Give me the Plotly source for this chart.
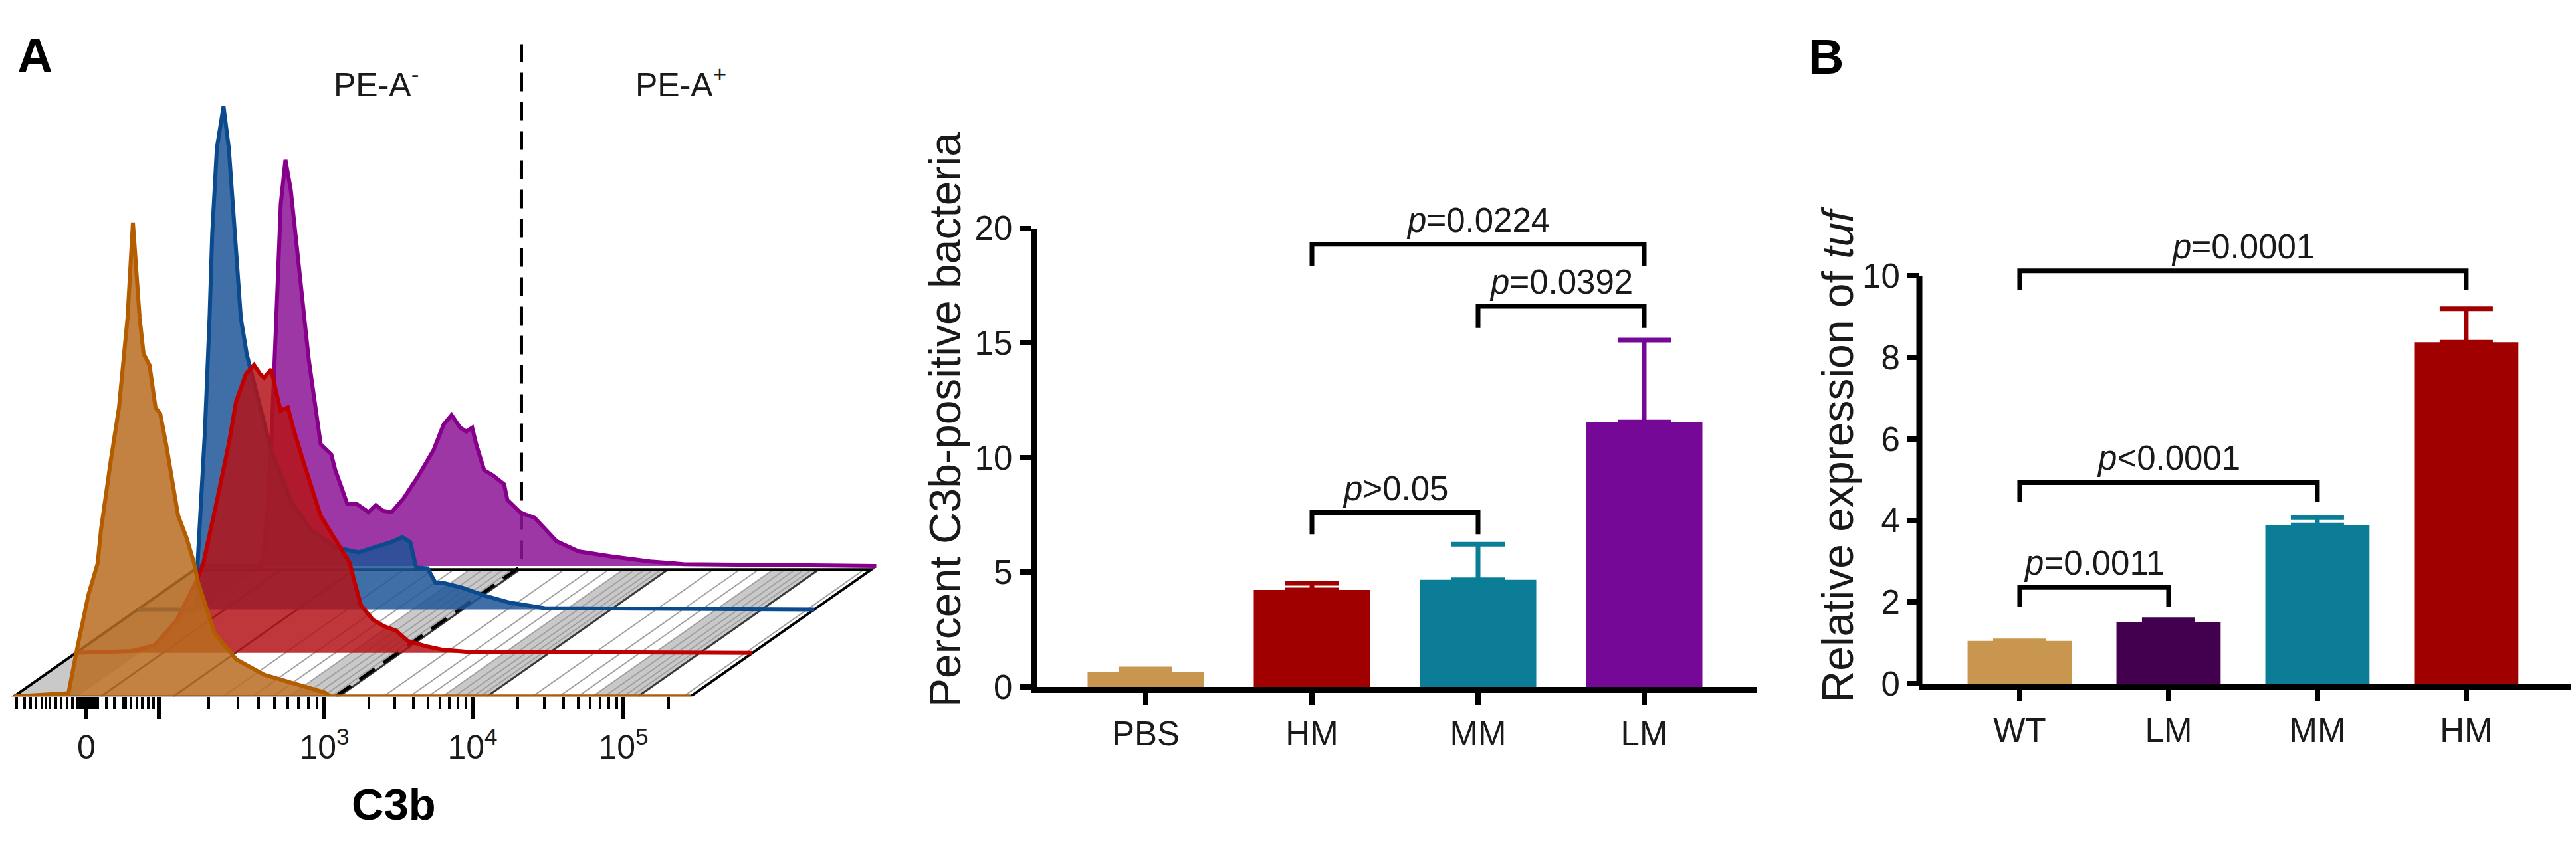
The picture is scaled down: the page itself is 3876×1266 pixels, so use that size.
import numpy as np
import plotly.graph_objects as go

FONT = "Liberation Sans, Arial, sans-serif"
TXT = "#1a1a1a"
W, H = 3876, 1266

# ---------------- A (left): C3b flow histograms ----------------
# display channel (0..1018 on the front axis) and event count
pbs_ch = [0, 82, 95, 112, 126, 131, 146, 158, 171, 179, 189, 195, 204, 213, 220, 229, 247, 260, 271, 277,
          302, 335, 377, 427, 468, 476, 1018]
pbs_cnt = [0, 5, 75, 160, 210, 263, 374, 455, 598, 747, 598, 540, 522, 455, 446, 397, 285, 249, 210, 180,
           99, 58, 34, 18, 6, 0, 0]

hm_ch = [0, 84, 118, 151, 180, 192, 212, 230, 241, 256, 268, 277, 283, 294, 301, 308, 319, 328, 341, 355,
         368, 386, 399, 412, 420, 429, 447, 464, 482, 499, 529, 552, 587, 1018]
hm_cnt = [0, 3, 12, 50, 110, 142, 239, 329, 396, 440, 454, 440, 434, 447, 413, 382, 387, 351, 306, 262,
          217, 186, 163, 142, 109, 75, 52, 42, 35, 19, 10, 5, 2, 0]

mm_ch = [0, 87, 90, 94, 101, 108, 112, 119, 129, 137, 146, 155, 164, 181, 201, 231, 261, 298, 332, 381,
         398, 410, 419, 436, 448, 459, 489, 521, 559, 612, 1018]
mm_cnt = [0, 0, 72, 147, 281, 460, 593, 727, 793, 727, 593, 460, 402, 330, 250, 170, 125, 98, 90, 106,
          114, 106, 66, 65, 42, 42, 34, 22, 11, 2, 0]

lm_ch = [0, 92, 96, 103, 108, 113, 117, 122, 129, 137, 144, 151, 158, 164, 173, 182, 198, 204, 213, 222,
         236, 254, 265, 276, 289, 307, 329, 352, 367, 379, 392, 401, 410, 416, 428, 441, 458, 463, 483, 504,
         537, 570, 620, 678, 728, 1018]
lm_cnt = [0, 0, 20, 100, 200, 317, 437, 571, 640, 593, 526, 460, 393, 326, 259, 192, 176, 151, 125, 98,
          98, 85, 96, 87, 85, 107, 142, 183, 223, 238, 218, 212, 218, 192, 151, 143, 129, 104, 84, 76,
          39, 23, 15, 7, 3, 0]

# axis ticks (display channels)
hist_tick_ch = [109, 218, 467, 690, 917]
hist_tick_text = ["0", "", "10<sup>3</sup>", "10<sup>4</sup>", "10<sup>5</sup>"]
near_zero_ch = [4, 16, 25, 33, 42, 48, 54, 63, 71, 80, 88, 96, 100, 104, 113, 117, 121,
                126, 139, 151, 164, 168, 176, 185, 193, 202, 210]
gate_ch = 484

# ---------------- A (right): C3b-positive bacteria ----------------
cat_a = ["PBS", "HM", "MM", "LM"]
mean_a = [0.66, 4.23, 4.67, 11.55]
err_a = [0.12, 0.29, 1.55, 3.57]
col_a = ["#C8964F", "#A00000", "#0B7D96", "#760898"]
brk_a = [("HM", "MM", 7.6, "<i>p</i>&gt;0.05"),
         ("MM", "LM", 16.6, "<i>p</i>=0.0392"),
         ("HM", "LM", 19.3, "<i>p</i>=0.0224")]

# ---------------- B: tuf expression ----------------
cat_b = ["WT", "LM", "MM", "HM"]
mean_b = [1.05, 1.51, 3.89, 8.37]
err_b = [0.0, 0.06, 0.18, 0.82]
col_b = ["#C8964F", "#42004F", "#0B7D96", "#A00000"]
brk_b = [("WT", "LM", 2.36, "<i>p</i>=0.0011"),
         ("WT", "MM", 4.93, "<i>p</i>&lt;0.0001"),
         ("WT", "HM", 10.12, "<i>p</i>=0.0001")]

fig = go.Figure()

# ---- pseudo-3D histogram overlay ----
step = 68.5      # vertical offset between layers
shear = 1.36     # horizontal shift per unit of depth
depth = 200
ch_max = 1018
grid_off = 22

shapes = []


def floor_band(c0, c1, color):
    return dict(type="path", xref="x", yref="y", layer="below", fillcolor=color, line=dict(width=0),
                path=f"M {c0},0 L {c1},0 L {c1 + shear * depth},{depth} L {c0 + shear * depth},{depth} Z")


shapes.append(floor_band(0, ch_max, "white"))
shapes.append(floor_band(0, near_zero_ch[11], "#c9c9c9"))
decades = hist_tick_ch[1:]
minor_ch = list(near_zero_ch)
for a, b in zip(decades[:-1], decades[1:]):
    shapes.append(floor_band(a + np.log10(5) * (b - a) + grid_off, b + grid_off, "#c9c9c9"))
    for m in range(2, 10):
        minor_ch.append(a + np.log10(m) * (b - a))
minor_ch.append(decades[-1] + np.log10(2) * (decades[-1] - decades[-2]))

for c in minor_ch:
    if c > hist_tick_ch[1]:
        shapes.append(dict(type="line", xref="x", yref="y", layer="below",
                           x0=c + grid_off, y0=0, x1=c + grid_off + shear * depth, y1=depth,
                           line=dict(color="#a0a0a0", width=2)))
for c in hist_tick_ch:
    shapes.append(dict(type="line", xref="x", yref="y", layer="below",
                       x0=c + grid_off, y0=0, x1=c + grid_off + shear * depth, y1=depth,
                       line=dict(color="#3a3a3a", width=3)))
shapes.append(dict(type="path", xref="x", yref="y", layer="below", line=dict(color="black", width=4),
                   path=f"M 0,0 L {ch_max},0 L {ch_max + shear * depth},{depth} "
                        f"L {shear * depth},{depth} Z"))
gb = 3 * step
shapes.append(dict(type="path", xref="x", yref="y", layer="below",
                   line=dict(color="black", width=5, dash="28px,16px"),
                   path=f"M {gate_ch},0 L {gate_ch + shear * gb},{gb} L {gate_ch + shear * gb},1028"))

layers = [
    (lm_ch, lm_cnt, "#86008C", "rgba(140,20,150,0.85)", 3),
    (mm_ch, mm_cnt, "#0B4A8C", "rgba(30,85,150,0.85)", 2),
    (hm_ch, hm_cnt, "#C00000", "rgba(180,20,25,0.85)", 1),
    (pbs_ch, pbs_cnt, "#B35C00", "rgba(184,108,32,0.85)", 0),
]
for ch, cnt, lc, fc, k in layers:
    base = k * step
    fig.add_trace(go.Scatter(
        x=[c + shear * base for c in ch], y=[n + base for n in cnt],
        mode="lines", fill="toself", fillcolor=fc, line=dict(color=lc, width=6),
        xaxis="x", yaxis="y", showlegend=False, hoverinfo="skip"))

# ---- bar panels ----
def add_bars(cats, means, errs, cols, brks, xa, ya, leg):
    for i, (m, e, c) in enumerate(zip(means, errs, cols)):
        fig.add_trace(go.Bar(
            x=[i], y=[m], width=0.7, marker=dict(color=c, line=dict(width=0)),
            error_y=dict(type="data", symmetric=False, array=[e], arrayminus=[0],
                         color=c, thickness=7, width=40),
            xaxis=xa, yaxis=ya, showlegend=False, hoverinfo="skip"))
    for a, b, lev, txt in brks:
        ia, ib = cats.index(a), cats.index(b)
        fig.add_trace(go.Scatter(
            x=[ia, ia, ib, ib], y=[lev - leg, lev, lev, lev - leg], mode="lines",
            line=dict(color="black", width=7), xaxis=xa, yaxis=ya, showlegend=False, hoverinfo="skip"))
        ann.append(dict(x=(ia + ib) / 2, y=lev, xref=xa, yref=ya, text=txt, showarrow=False,
                        yanchor="bottom", yshift=6, font=dict(size=51, color=TXT, family=FONT)))


ann = []
add_bars(cat_a, mean_a, err_a, col_a, brk_a, "x2", "y2", 0.95)
add_bars(cat_b, mean_b, err_b, col_b, brk_b, "x3", "y3", 0.47)

# y axis line of panel B (stops at top tick, brackets go above it)
shapes.append(dict(type="line", xref="x3 domain", yref="y3", x0=0, x1=0, y0=0, y1=10,
                   line=dict(color="black", width=9)))


def txt(x, y, s, size, bold=False, angle=0):
    ann.append(dict(x=x / W, y=1 - y / H, xref="paper", yref="paper", text=f"<b>{s}</b>" if bold else s,
                    showarrow=False, textangle=angle, xanchor="center", yanchor="middle",
                    font=dict(size=size, color="black" if bold else TXT, family=FONT)))


txt(44, 50, "A", 74, bold=True)
txt(2739, 52, "B", 74, bold=True)
txt(558, 92, "PE-A<sup>-</sup>", 50)
txt(1016, 92, "PE-A<sup>+</sup>", 50)
txt(584, 1230, "C3b", 67, bold=True)
txt(1414, 624, "Percent C3b-positive bacteria", 66, angle=-90)
txt(2757, 678, "Relative expression of <i>tuf</i>", 66, angle=-90)

tick_font = dict(size=51, color=TXT, family=FONT)
bar_x = dict(showgrid=False, zeroline=False, showline=True, linewidth=9, linecolor="black",
             ticks="outside", ticklen=18, tickwidth=8, tickcolor="black", tickfont=tick_font, tickmode="array")
bar_y = dict(showgrid=False, zeroline=False, ticks="outside", ticklen=18, tickwidth=8, tickcolor="black",
             tickfont=tick_font, linecolor="black", linewidth=9)

fig.update_layout(
    width=W, height=H, margin=dict(l=0, r=0, t=0, b=0),
    paper_bgcolor="white", plot_bgcolor="white", barmode="overlay",
    font=dict(family=FONT, color=TXT),
    xaxis=dict(domain=[0, 1330 / W], range=[-13, 1317], showgrid=False, zeroline=False, showline=False,
               tickmode="array", tickvals=hist_tick_ch, ticktext=hist_tick_text, ticks="outside",
               ticklen=33, tickwidth=6, tickcolor="black", tickfont=dict(size=50, color=TXT, family=FONT),
               minor=dict(tickmode="array", tickvals=minor_ch, ticks="outside", ticklen=18, tickwidth=4,
                          tickcolor="black", showgrid=False),
               anchor="y"),
    yaxis=dict(domain=[1 - 1060 / H, 1], range=[0, 1060], visible=False, anchor="x"),
    xaxis2=dict(domain=[1552.5 / W, 2636 / W], range=[-0.654, 3.68], tickvals=list(range(4)),
                ticktext=cat_a, anchor="y2", **bar_x),
    yaxis2=dict(domain=[1 - 1045 / H, 1 - 322 / H], range=[0, 20], tickvals=[0, 5, 10, 15, 20],
                showline=True, anchor="x2", **bar_y),
    xaxis3=dict(domain=[2880 / W, 3870 / W], range=[-0.674, 3.746], tickvals=list(range(4)),
                ticktext=cat_b, anchor="y3", **bar_x),
    yaxis3=dict(domain=[1 - 1040 / H, 1 - 358.4 / H], range=[0, 10.6], tickvals=[0, 2, 4, 6, 8, 10],
                showline=False, anchor="x3", **bar_y),
    shapes=shapes, annotations=ann,
)

fig.write_html("out.html")
